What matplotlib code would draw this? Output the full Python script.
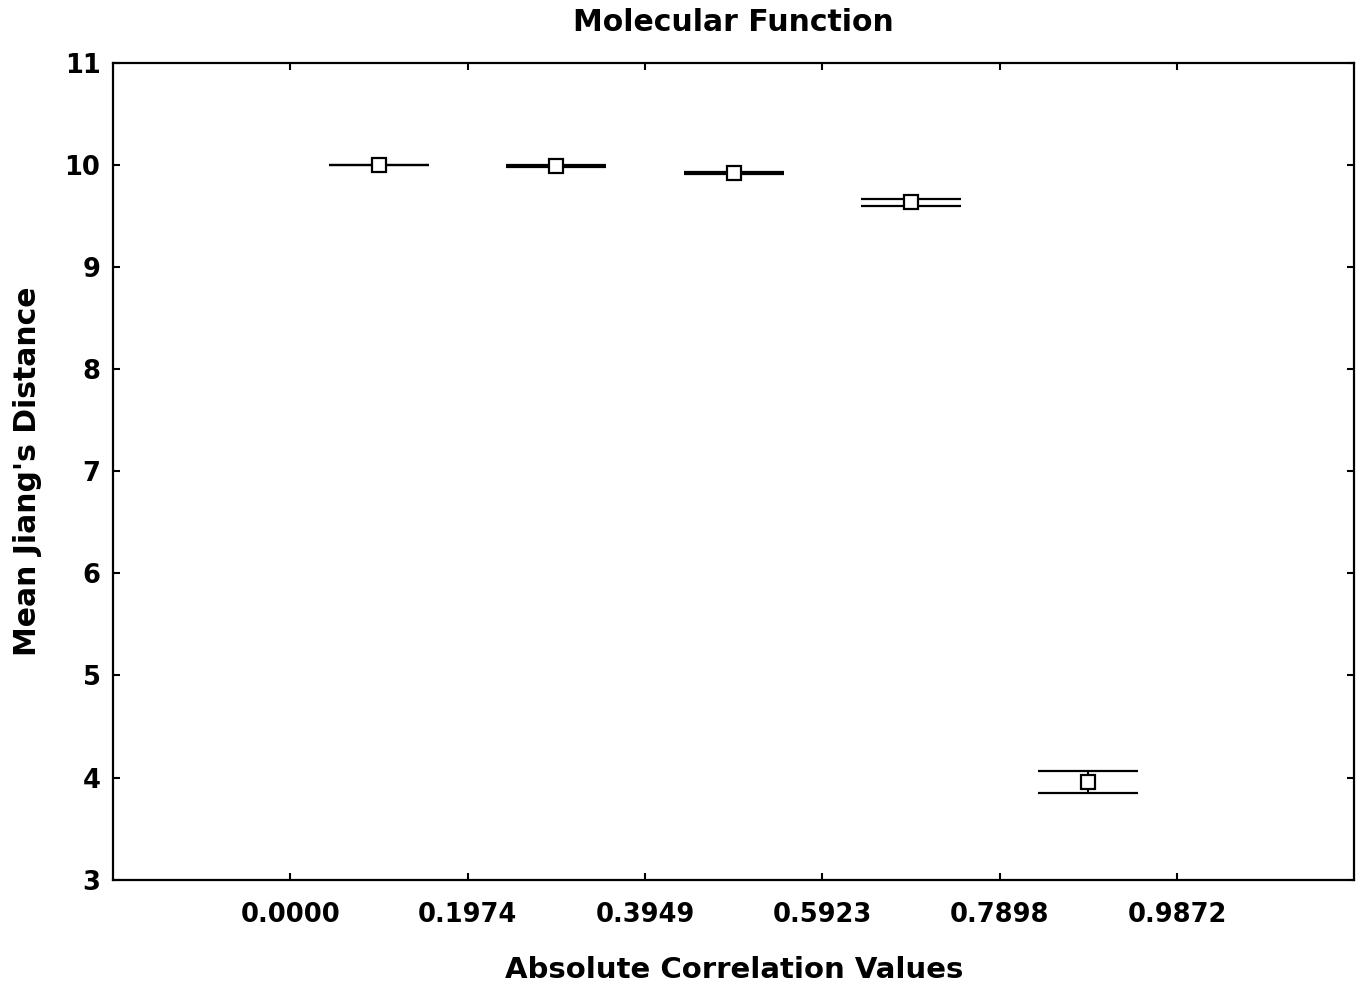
#!/usr/bin/env python3
"""Mean Jiang's distance per absolute-correlation bin (Molecular Function)."""

import matplotlib

matplotlib.use("Agg")
import matplotlib.pyplot as plt

# bin edges shown on the x axis and the bin centres where means are plotted
bin_edges = [0.0000, 0.1974, 0.3949, 0.5923, 0.7898, 0.9872]
bin_labels = ["0.0000", "0.1974", "0.3949", "0.5923", "0.7898", "0.9872"]
bin_centres = [0.0987, 0.2961, 0.4936, 0.6910, 0.8885]

mean_dist = [10.00, 9.985, 9.915, 9.632, 3.96]
err_dist = [0.0, 0.008, 0.010, 0.035, 0.108]

HALF_W = 0.0556  # half width of the horizontal bars (data units)


def main():
    fig = plt.figure(figsize=(13.63, 9.89), dpi=100)
    ax = fig.add_axes([0.0829, 0.1105, 0.9108, 0.8262])

    bold = dict(family="DejaVu Sans", weight="bold")

    for x, m, e in zip(bin_centres, mean_dist, err_dist):
        ax.vlines(x, m - e, m + e, color="black", lw=1.5, zorder=2)
        ax.hlines([m - e, m + e], x - HALF_W, x + HALF_W,
                  color="black", lw=1.6, zorder=2)
    ax.plot(bin_centres, mean_dist, ls="none", marker="s", ms=10,
            mfc="white", mec="black", mew=1.6, zorder=3)

    ax.set_xlim(-0.1974, 1.1846)
    ax.set_ylim(3, 11)
    ax.set_xticks(bin_edges)
    ax.set_xticklabels(bin_labels, fontsize=18.5, **bold)
    ax.set_yticks(range(3, 12))
    ax.set_yticklabels([str(v) for v in range(3, 12)], fontsize=18.5, **bold)
    ax.tick_params(direction="in", length=5, width=1.5, top=True, right=True,
                   color="black")
    ax.tick_params(axis="x", pad=16)
    ax.tick_params(axis="y", pad=9)
    for sp in ax.spines.values():
        sp.set_linewidth(1.6)

    ax.set_xlabel("Absolute Correlation Values", fontsize=21, labelpad=20, **bold)
    ax.set_ylabel("Mean Jiang's Distance", fontsize=21.5, labelpad=16, **bold)
    ax.set_title("Molecular Function", fontsize=21.5, pad=23, **bold)

    fig.savefig("out.png", dpi=100)
    plt.close(fig)


if __name__ == "__main__":
    main()
